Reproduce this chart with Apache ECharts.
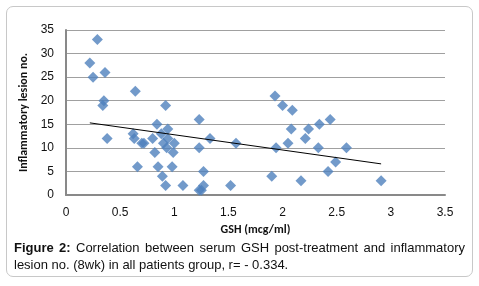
<!DOCTYPE html>
<html>
<head>
<meta charset="utf-8">
<script src="https://cdn.jsdelivr.net/npm/echarts@6/dist/echarts.min.js"></script>
<style>
  html, body { margin: 0; padding: 0; background: #fff; }
  #frame {
    position: absolute; left: 6px; top: 6px; width: 467px; height: 271px;
    border: 1px solid #c8c8c8; border-radius: 7px; box-sizing: border-box;
  }
  #chart { position: absolute; left: 0; top: 0; width: 479px; height: 286px; }
  #caption {
    position: absolute; left: 14px; top: 239px; width: 451px;
    font-family: "Liberation Sans", Arial, sans-serif; font-size: 13px; line-height: 17px;
    color: #111; text-align: justify;
  }
  #caption b { font-weight: bold; }
</style>
</head>
<body>
<div id="frame"></div>
<div id="chart"></div>
<div id="caption"><b>Figure 2:</b> Correlation between serum GSH post-treatment and inflammatory lesion no. (8wk) in all patients group, r= - 0.334.</div>
<script>
// GSH (mcg/ml) and inflammatory lesion count
const gsh = [
  0.29, 0.22, 0.25, 0.36, 0.35, 0.34, 0.38, 0.64, 0.62, 0.63,
  0.66, 0.70, 0.72, 0.80, 0.84, 0.82, 0.85, 0.89, 0.92, 0.88,
  0.90, 0.93, 0.94, 0.94, 0.92, 0.99, 1.00, 0.98, 1.08, 1.23,
  1.25, 1.27, 1.27, 1.23, 1.23, 1.33, 1.52, 1.57, 1.90, 1.93,
  1.94, 2.00, 2.05, 2.08, 2.09, 2.17, 2.21, 2.24, 2.33, 2.34,
  2.42, 2.44, 2.49, 2.59, 2.91
];
const lesions = [
  33, 28, 25, 26, 20, 19, 12, 22, 13, 12,
  6, 11, 11, 12, 15, 9, 6, 4, 2, 13,
  11, 10, 14, 12, 19, 9, 11, 6, 2, 1,
  1, 2, 5, 10, 16, 12, 2, 11, 4, 21,
  10, 19, 11, 14, 18, 3, 12, 14, 10, 15,
  5, 16, 7, 10, 3
];
const trendX = [0.22, 2.91];
const trendY = [15.3, 6.6];
const xTicks = ['0', '0.5', '1', '1.5', '2', '2.5', '3', '3.5'];

const chart = echarts.init(document.getElementById('chart'), null, { renderer: 'canvas' });

chart.setOption({
  animation: false,
  grid: { left: 66, right: 34, top: 30, bottom: 91 },
  xAxis: {
    type: 'value',
    min: 0,
    max: 3.5,
    interval: 0.5,
    name: 'GSH (mcg/ml)',
    nameLocation: 'middle',
    nameGap: 25,
    nameTextStyle: { fontFamily: 'Carlito, "Liberation Sans", sans-serif', fontWeight: 'bold', fontSize: 12, color: '#111' },
    axisLine: { lineStyle: { color: '#898989', width: 2 } },
    axisTick: { show: false },
    splitLine: { show: false },
    axisLabel: {
      color: '#111', fontFamily: '"Liberation Sans", Arial, sans-serif', fontSize: 12, margin: 12,
      formatter: (v) => xTicks[Math.round(v * 2)]
    }
  },
  yAxis: {
    type: 'value',
    min: 0,
    max: 35,
    interval: 5,
    name: 'Inflammatory lesion no.',
    nameLocation: 'middle',
    nameGap: 34,
    nameTextStyle: { fontFamily: 'Carlito, "Liberation Sans", sans-serif', fontWeight: 'bold', fontSize: 12, color: '#111' },
    axisLine: { show: true, lineStyle: { color: '#898989', width: 2 } },
    axisTick: { show: false },
    axisLabel: { color: '#111', fontFamily: '"Liberation Sans", Arial, sans-serif', fontSize: 12, margin: 12 },
    splitLine: { lineStyle: { color: '#a0a0a0', width: 1 } }
  },
  series: [
    {
      type: 'scatter',
      symbol: 'diamond',
      symbolSize: 11,
      itemStyle: { color: '#4f81bd' },
      data: gsh.map((x, i) => [x, lesions[i]]),
      z: 2
    },
    {
      type: 'line',
      showSymbol: false,
      lineStyle: { color: '#000', width: 1 },
      data: trendX.map((x, i) => [x, trendY[i]]),
      z: 3
    }
  ]
});
</script>
</body>
</html>
